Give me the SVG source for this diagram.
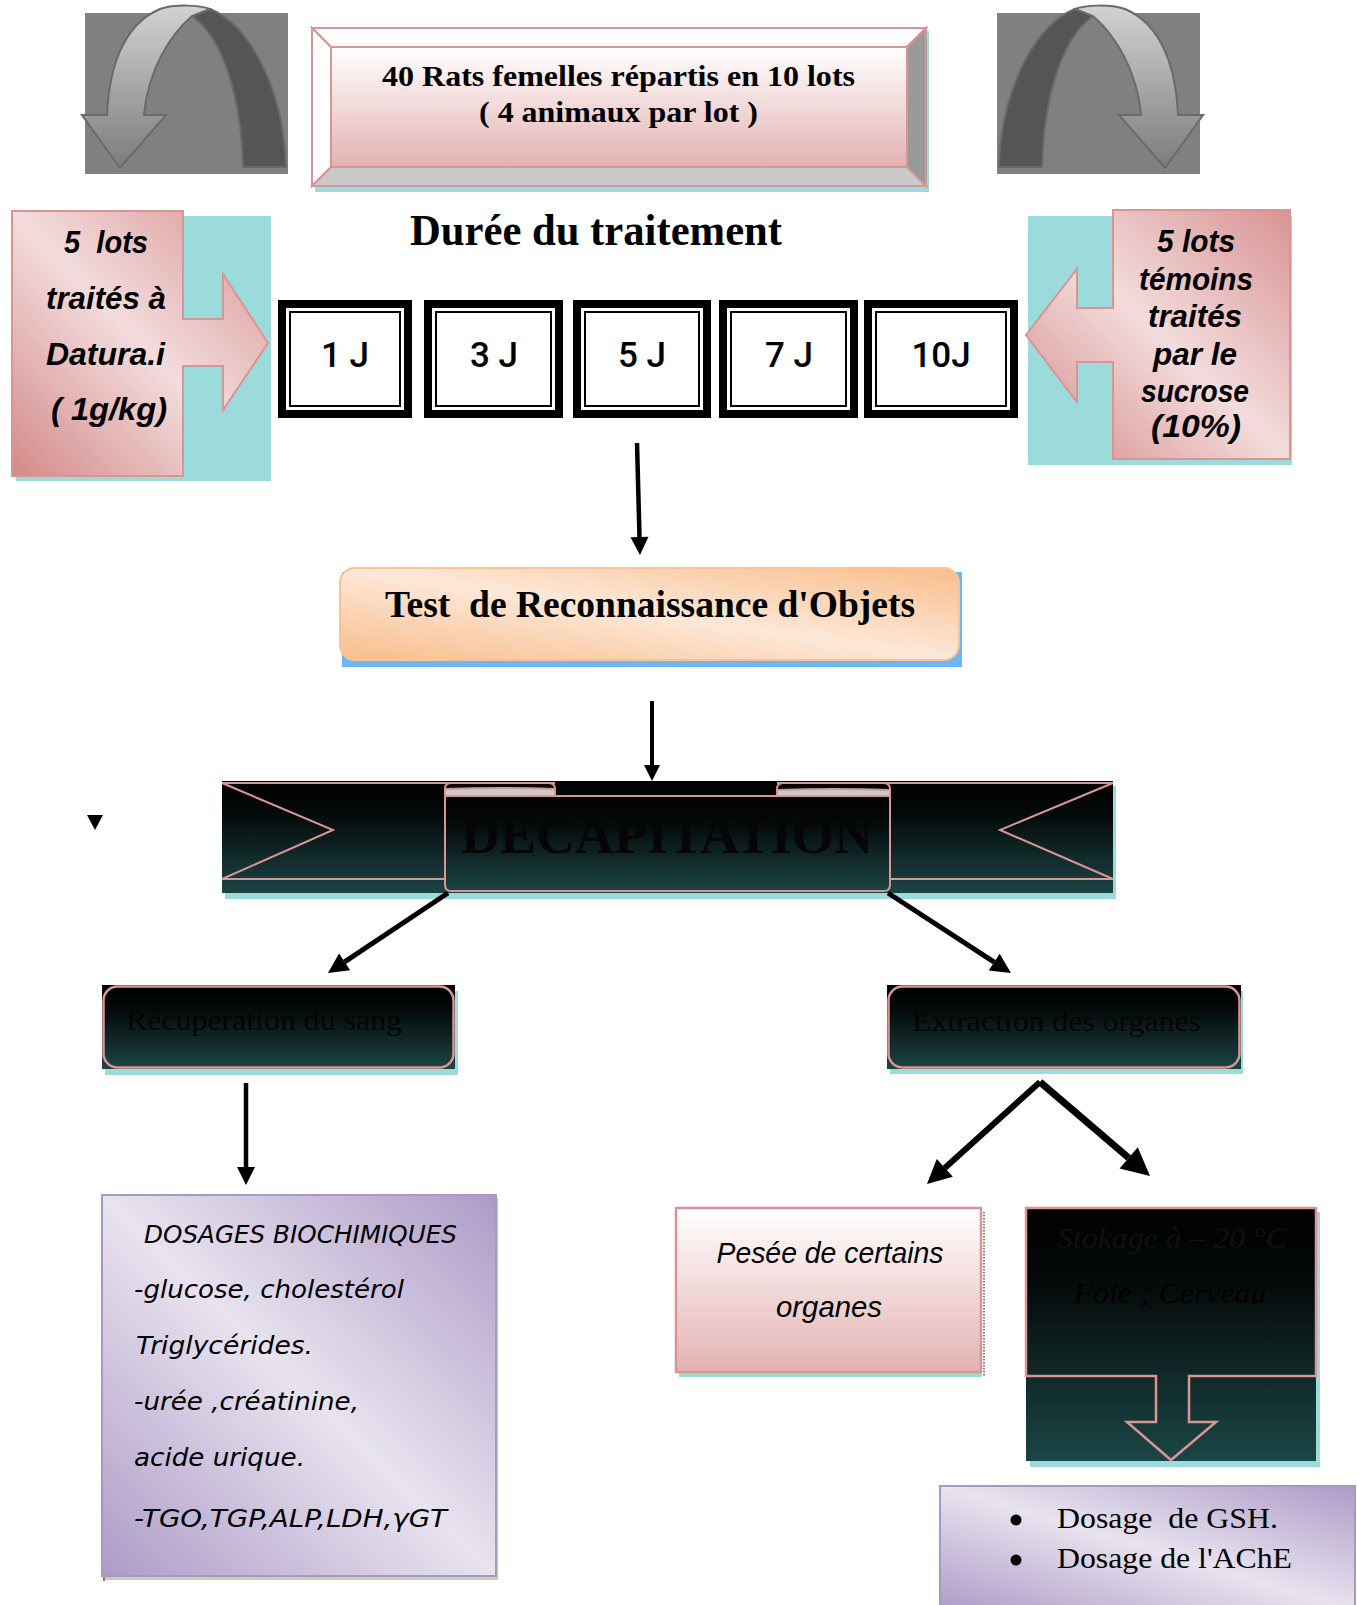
<svg xmlns="http://www.w3.org/2000/svg" width="1357" height="1605" viewBox="0 0 1357 1605">
<defs>
  <linearGradient id="gDark" x1="0" y1="0" x2="0" y2="1">
    <stop offset="0" stop-color="#000000"/>
    <stop offset="0.3" stop-color="#050a0a"/>
    <stop offset="1" stop-color="#1b4545"/>
  </linearGradient>
  <linearGradient id="gFace" x1="0" y1="0" x2="0" y2="1">
    <stop offset="0" stop-color="#ffffff"/>
    <stop offset="1" stop-color="#e4b2b2"/>
  </linearGradient>
  <linearGradient id="gPink" x1="1" y1="0" x2="0" y2="1">
    <stop offset="0" stop-color="#d99393"/>
    <stop offset="0.5" stop-color="#f3dcdc"/>
    <stop offset="1" stop-color="#d48989"/>
  </linearGradient>
  <linearGradient id="gOrange" x1="1" y1="0" x2="0" y2="1">
    <stop offset="0" stop-color="#f9bd8b"/>
    <stop offset="0.5" stop-color="#fde8d8"/>
    <stop offset="1" stop-color="#f9bd8b"/>
  </linearGradient>
  <linearGradient id="gPurple" x1="1" y1="0" x2="0" y2="1">
    <stop offset="0" stop-color="#ad9bc7"/>
    <stop offset="0.5" stop-color="#e8e3ef"/>
    <stop offset="1" stop-color="#ad9bc7"/>
  </linearGradient>
  <linearGradient id="gLight" x1="0" y1="0" x2="0" y2="1">
    <stop offset="0" stop-color="#d2d2d2"/>
    <stop offset="1" stop-color="#7c7c7c"/>
  </linearGradient>
  <marker id="ah" markerUnits="strokeWidth" markerWidth="4" markerHeight="4" refX="0" refY="2" orient="auto" viewBox="0 0 4 4" overflow="visible">
    <path d="M0,0 L4,2 L0,4 z" fill="#000"/>
  </marker>
  <g id="curl">
    <rect x="85" y="13" width="203" height="161" fill="#808080"/>
    <path d="M210,9 C250,25 284,90 286,167 L243,167 C241,100 225,40 192,16 Z" fill="#555555" stroke="#6a6a6a" stroke-width="2"/>
    <path d="M107,115 C109,70 122,25 160,9 C175,4 200,5 210,9 L192,16 C170,35 148,70 144,115 L166,115 L120,168 L82,115 Z" fill="url(#gLight)" stroke="#6a6a6a" stroke-width="2"/>
  </g>
</defs>
<style>
  .pk{stroke:#d99494;stroke-width:2}
  .cy{fill:#9cdbdc}
  .sb{font-family:"Liberation Serif",serif;font-weight:bold}
  .sr{font-family:"Liberation Serif",serif}
  .bi{font-family:"Liberation Sans",sans-serif;font-weight:bold;font-style:italic;font-size:32px}
  .day{font-family:Roboto,"Liberation Sans",sans-serif;font-weight:500;font-size:35px}
  .it{font-family:"DejaVu Sans",sans-serif;font-style:italic;font-size:25px}
  .conn line{stroke:#000;fill:none;marker-end:url(#ah)}
</style>

<g id="icon-left"><use href="#curl"/></g>
<g id="icon-right"><use href="#curl" transform="matrix(-1 0 0 1 1285 0)"/></g>

<g id="rats">
  <rect x="315" y="31" width="614" height="161" class="cy"/>
  <polygon points="312,28 926,28 907,47 331,47" fill="#ffffff" class="pk"/>
  <polygon points="312,28 331,47 331,167 312,186" fill="#ffffff" class="pk"/>
  <polygon points="312,186 331,167 907,167 926,186" fill="#c9c9c9" class="pk"/>
  <polygon points="926,28 926,186 907,167 907,47" fill="#9a9a9a" class="pk"/>
  <rect x="331" y="47" width="576" height="120" fill="url(#gFace)" class="pk"/>
  <text class="sb" x="382" y="86" font-size="30" textLength="473" lengthAdjust="spacingAndGlyphs">40 Rats femelles répartis en 10 lots</text>
  <text class="sb" x="479" y="122" font-size="30" textLength="279" lengthAdjust="spacingAndGlyphs">( 4 animaux par lot )</text>
</g>

<g id="title">
  <text class="sb" x="410" y="245" font-size="44" textLength="372" lengthAdjust="spacingAndGlyphs">Durée du traitement</text>
</g>

<g id="datura">
  <rect x="16" y="216" width="255" height="265" class="cy"/>
  <path d="M12,211 H183 V319 H223 V274 L268,343 L223,410 V366 H183 V476 H12 Z" fill="url(#gPink)" class="pk"/>
  <text class="bi" x="64" y="253" xml:space="preserve" textLength="84" lengthAdjust="spacingAndGlyphs">5  lots</text>
  <text class="bi" x="46" y="309" textLength="120" lengthAdjust="spacingAndGlyphs">traités à</text>
  <text class="bi" x="46" y="365" textLength="119" lengthAdjust="spacingAndGlyphs">Datura.i</text>
  <text class="bi" x="51" y="420" textLength="116" lengthAdjust="spacingAndGlyphs">( 1g/kg)</text>
</g>

<g id="temoins">
  <rect x="1028" y="216" width="264" height="249" class="cy"/>
  <path d="M1113,210 H1290 V459 H1113 V362 H1077 V402 L1026,335 L1077,269 V308 H1113 Z" fill="url(#gPink)" class="pk"/>
  <g text-anchor="middle">
    <text class="bi" x="1196" y="252" textLength="78" lengthAdjust="spacingAndGlyphs">5 lots</text>
    <text class="bi" x="1196" y="290" textLength="114" lengthAdjust="spacingAndGlyphs">témoins</text>
    <text class="bi" x="1195" y="327" textLength="94" lengthAdjust="spacingAndGlyphs">traités</text>
    <text class="bi" x="1195" y="365" textLength="84" lengthAdjust="spacingAndGlyphs">par le</text>
    <text class="bi" x="1195" y="402" textLength="108" lengthAdjust="spacingAndGlyphs">sucrose</text>
    <text class="bi" x="1196" y="437" textLength="90" lengthAdjust="spacingAndGlyphs">(10%)</text>
  </g>
</g>

<g id="d1">
  <rect x="278" y="300" width="134" height="118" fill="#000"/>
  <rect x="286" y="308" width="118" height="102" fill="#fff"/>
  <rect x="290" y="312" width="110" height="94" fill="#fff" stroke="#000" stroke-width="2"/>
  <text class="day" x="345" y="367" text-anchor="middle">1 J</text>
</g>
<g id="d3">
  <rect x="424" y="300" width="139" height="118" fill="#000"/>
  <rect x="432" y="308" width="123" height="102" fill="#fff"/>
  <rect x="436" y="312" width="115" height="94" fill="#fff" stroke="#000" stroke-width="2"/>
  <text class="day" x="494" y="367" text-anchor="middle">3 J</text>
</g>
<g id="d5">
  <rect x="573" y="300" width="138" height="118" fill="#000"/>
  <rect x="581" y="308" width="122" height="102" fill="#fff"/>
  <rect x="585" y="312" width="114" height="94" fill="#fff" stroke="#000" stroke-width="2"/>
  <text class="day" x="642" y="367" text-anchor="middle">5 J</text>
</g>
<g id="d7">
  <rect x="719" y="300" width="139" height="118" fill="#000"/>
  <rect x="727" y="308" width="123" height="102" fill="#fff"/>
  <rect x="731" y="312" width="115" height="94" fill="#fff" stroke="#000" stroke-width="2"/>
  <text class="day" x="789" y="367" text-anchor="middle">7 J</text>
</g>
<g id="d10">
  <rect x="864" y="300" width="154" height="118" fill="#000"/>
  <rect x="872" y="308" width="138" height="102" fill="#fff"/>
  <rect x="876" y="312" width="130" height="94" fill="#fff" stroke="#000" stroke-width="2"/>
  <text class="day" x="941" y="367" text-anchor="middle">10J</text>
</g>

<g id="test">
  <rect x="342" y="572" width="620" height="95" fill="#6cb7f5"/>
  <rect x="340" y="568" width="619" height="92" rx="15" fill="url(#gOrange)" stroke="#f8c399" stroke-width="2"/>
  <text class="sb" x="385" y="617" font-size="38" xml:space="preserve" textLength="530" lengthAdjust="spacingAndGlyphs">Test  de Reconnaissance d'Objets</text>
</g>

<g id="decapitation">
  <rect x="225" y="786" width="891" height="113" class="cy"/>
  <rect x="222" y="781" width="891" height="112" fill="url(#gDark)"/>
  <path d="M222,783 H555 M222,783 L333,830 L222,879 H445" fill="none" class="pk"/>
  <path d="M1113,783 H777 M1113,783 L1000,830 L1113,879 H890" fill="none" class="pk"/>
  <path d="M445,796 V885 Q445,891 451,891 H884 Q890,891 890,885 V796 Z" fill="url(#gDark)" class="pk"/>
  <path d="M445,796 V788 Q445,783 452,783 H548 Q555,783 555,789 V796 Z" fill="#050505" class="pk"/>
  <path d="M446,789 H554 V795 H446 Z" fill="#cbcbcb"/>
  <path d="M777,796 V789 Q777,783 784,783 H883 Q890,783 890,789 V796 Z" fill="#050505" class="pk"/>
  <path d="M778,790 H889 V795 H778 Z" fill="#cbcbcb"/>
  <path d="M446,789 Q500,787 554,789 M778,790 Q835,788 889,790" fill="none" class="pk" stroke-width="1.5"/>
  <line x1="445" y1="796" x2="890" y2="796" class="pk"/>
  <text class="sb" x="461" y="853" font-size="54" fill="#060606" textLength="412" lengthAdjust="spacingAndGlyphs">DECAPITATION</text>
</g>

<g id="marker-left">
  <polygon points="87,815 103,815 95,830" fill="#000"/>
</g>

<g id="sang">
  <rect x="105" y="991" width="353" height="84" class="cy"/>
  <rect x="102" y="985" width="353" height="84" fill="url(#gDark)"/>
  <rect x="103.5" y="986.5" width="350" height="81" rx="14" fill="none" stroke="#d99494" stroke-width="2.5"/>
  <text class="sr" x="126" y="1030" font-size="30" fill="#050505" textLength="276" lengthAdjust="spacingAndGlyphs">Récupération du sang</text>
</g>

<g id="organes">
  <rect x="890" y="991" width="353" height="83" class="cy"/>
  <rect x="887" y="985" width="354" height="84" fill="url(#gDark)"/>
  <rect x="888.5" y="986.5" width="351" height="81" rx="14" fill="none" stroke="#d99494" stroke-width="2.5"/>
  <text class="sr" x="912" y="1031" font-size="30" fill="#050505" textLength="289" lengthAdjust="spacingAndGlyphs">Extraction des organes</text>
</g>

<g id="dosages">
  <rect x="105" y="1198" width="393" height="382" fill="#c3d0a9"/>
  <rect x="102" y="1195" width="394" height="381" fill="url(#gPurple)" stroke="#a898c2" stroke-width="2"/>
  <line x1="104" y1="1577" x2="104" y2="1581" stroke="#000" stroke-width="1"/>
  <text class="it" x="144" y="1243" textLength="313" lengthAdjust="spacingAndGlyphs">DOSAGES BIOCHIMIQUES</text>
  <text class="it" x="134" y="1298" textLength="270" lengthAdjust="spacingAndGlyphs">-glucose, cholestérol</text>
  <text class="it" x="136" y="1354" textLength="177" lengthAdjust="spacingAndGlyphs">Triglycérides.</text>
  <text class="it" x="134" y="1410" textLength="225" lengthAdjust="spacingAndGlyphs">-urée ,créatinine,</text>
  <text class="it" x="134" y="1466" textLength="171" lengthAdjust="spacingAndGlyphs">acide urique.</text>
  <text class="it" x="134" y="1527" textLength="313" lengthAdjust="spacingAndGlyphs">-TGO,TGP,ALP,LDH,γGT</text>
</g>

<g id="pesee">
  <rect x="679" y="1212" width="303" height="165" class="cy"/>
  <rect x="676" y="1208" width="305" height="164" fill="url(#gFace)" stroke="#d99494" stroke-width="2.5"/>
  <line x1="984" y1="1212" x2="984" y2="1376" stroke="#000" stroke-width="1" stroke-dasharray="1.5,1.5"/>
  <text font-family="Liberation Sans, sans-serif" font-style="italic" font-size="30" text-anchor="middle" x="830" y="1263" textLength="227" lengthAdjust="spacingAndGlyphs">Pesée de certains</text>
  <text font-family="Liberation Sans, sans-serif" font-style="italic" font-size="30" text-anchor="middle" x="829" y="1317" textLength="106" lengthAdjust="spacingAndGlyphs">organes</text>
</g>

<g id="stockage">
  <rect x="1030" y="1212" width="290" height="255" class="cy"/>
  <rect x="1026" y="1208" width="290" height="253" fill="url(#gDark)"/>
  <path d="M1026,1208 H1316 V1376 H1189 V1422 H1216 L1171,1460 L1127,1422 H1156 V1376 H1026 Z" fill="none" stroke="#d99494" stroke-width="2.5"/>
  <text class="sr" font-style="italic" font-size="30" fill="#101010" text-anchor="middle" x="1172" y="1248" textLength="230" lengthAdjust="spacingAndGlyphs">Stokage à – 20 °C</text>
  <text class="sr" font-style="italic" font-size="30" fill="#000000" text-anchor="middle" x="1170" y="1303" textLength="193" lengthAdjust="spacingAndGlyphs">Foie ; Cerveau</text>
</g>

<g id="gsh">
  <rect x="940" y="1486" width="415" height="125" fill="url(#gPurple)" stroke="#a898c2" stroke-width="2"/>
  <circle cx="1016" cy="1520" r="5.5" fill="#000"/>
  <circle cx="1016" cy="1560" r="5.5" fill="#000"/>
  <text class="sr" font-size="30" x="1057" y="1528" xml:space="preserve" textLength="221" lengthAdjust="spacingAndGlyphs">Dosage  de GSH.</text>
  <text class="sr" font-size="30" x="1057" y="1568" textLength="235" lengthAdjust="spacingAndGlyphs">Dosage de l'AChE</text>
</g>

<g id="connectors" class="conn">
  <line x1="637" y1="443" x2="639.5" y2="537" stroke-width="4.5"/>
  <line x1="652" y1="701" x2="652" y2="765" stroke-width="4"/>
  <line x1="448" y1="893" x2="344.6" y2="961.9" stroke-width="5"/>
  <line x1="888" y1="893" x2="994.2" y2="962.1" stroke-width="5"/>
  <line x1="246" y1="1083" x2="246" y2="1167" stroke-width="4.5"/>
  <line x1="1040" y1="1082" x2="944.8" y2="1167.9" stroke-width="6"/>
  <line x1="1040" y1="1082" x2="1128.7" y2="1157.8" stroke-width="7"/>
</g>
</svg>
